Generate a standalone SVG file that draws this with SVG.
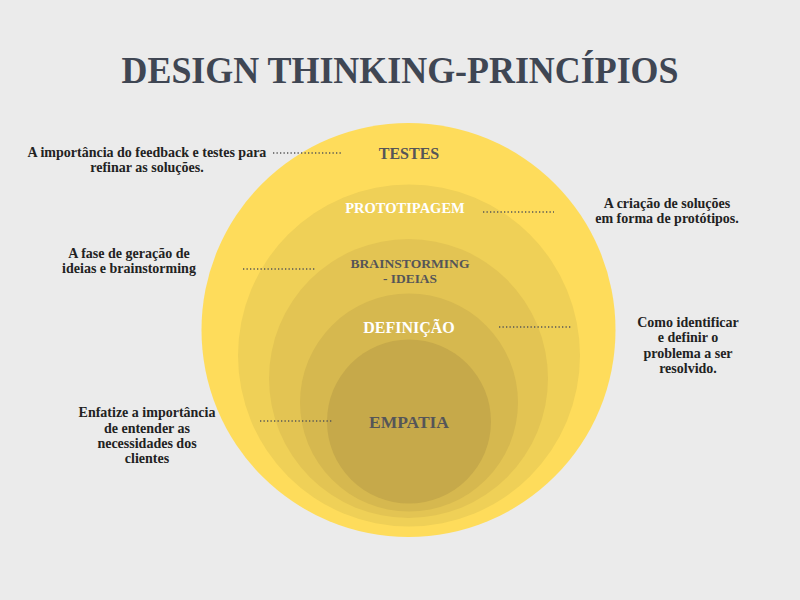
<svg xmlns="http://www.w3.org/2000/svg" width="800" height="600" viewBox="0 0 800 600">
<style>
.title{font-family:"Liberation Serif",serif;font-weight:bold;font-size:37px;fill:#3f4653;}
.lbl{font-family:"Liberation Serif",serif;font-weight:bold;text-anchor:middle;}
.dark{fill:#555558;}
.light{fill:#ffffff;}
.desc{font-family:"Liberation Serif",serif;font-weight:bold;font-size:14px;fill:#222222;text-anchor:middle;}
.dot{stroke:#555555;stroke-width:1.3;stroke-dasharray:1.3 2.2;fill:none;}
</style>
<rect width="800" height="600" fill="#ebebeb"/>
<text class="title" x="400" y="83" text-anchor="middle" textLength="557" lengthAdjust="spacingAndGlyphs">DESIGN THINKING-PRINCÍPIOS</text>
<g id="testes"><circle cx="408.5" cy="330" r="207" fill="#fedc5b"/><text class="lbl dark" x="409" y="159" font-size="16">TESTES</text></g>
<g id="prototipagem"><circle cx="409" cy="355.5" r="171" fill="#efd057"/><text class="lbl light" x="405" y="213" font-size="14.5">PROTOTIPAGEM</text></g>
<g id="brainstorming"><circle cx="408.5" cy="378.5" r="139.5" fill="#e3c453"/><text class="lbl dark" x="410" y="268" font-size="12" textLength="119" lengthAdjust="spacingAndGlyphs">BRAINSTORMING</text><text class="lbl dark" x="410" y="283" font-size="12" textLength="54" lengthAdjust="spacingAndGlyphs">- IDEIAS</text></g>
<g id="definicao"><circle cx="409" cy="402.5" r="109" fill="#d6b84f"/><text class="lbl light" x="409" y="333" font-size="16">DEFINIÇÃO</text></g>
<g id="empatia"><circle cx="409" cy="421.5" r="82" fill="#c6a94a"/><text class="lbl dark" x="409" y="428" font-size="17.5">EMPATIA</text></g>
<g id="connectors">
<line class="dot" x1="273" y1="153" x2="343" y2="153"/>
<line class="dot" x1="483" y1="212" x2="554" y2="212"/>
<line class="dot" x1="243" y1="269" x2="315" y2="269"/>
<line class="dot" x1="499" y1="327" x2="571" y2="327"/>
<line class="dot" x1="260" y1="421" x2="332" y2="421"/>
</g>
<g id="desc-testes"><text class="desc" x="147" y="157">A importância do feedback e testes para</text><text class="desc" x="147" y="172">refinar as soluções.</text></g>
<g id="desc-prototipagem"><text class="desc" x="667" y="208">A criação de soluções</text><text class="desc" x="667" y="223">em forma de protótipos.</text></g>
<g id="desc-brainstorming"><text class="desc" x="129" y="258">A fase de geração de</text><text class="desc" x="129" y="273">ideias e brainstorming</text></g>
<g id="desc-definicao"><text class="desc" x="688" y="327">Como identificar</text><text class="desc" x="688" y="342">e definir o</text><text class="desc" x="688" y="358">problema a ser</text><text class="desc" x="688" y="373">resolvido.</text></g>
<g id="desc-empatia"><text class="desc" x="147" y="417">Enfatize a importância</text><text class="desc" x="147" y="433">de entender as</text><text class="desc" x="147" y="448">necessidades dos</text><text class="desc" x="147" y="463">clientes</text></g>
</svg>
